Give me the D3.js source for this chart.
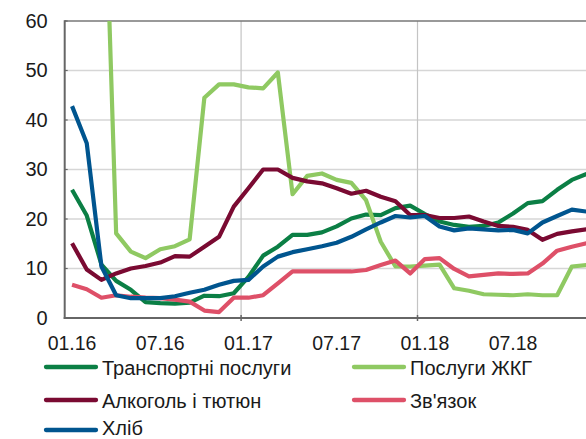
<!DOCTYPE html>
<html>
<head>
<meta charset="utf-8">
<script src="https://cdn.jsdelivr.net/npm/d3@7/dist/d3.min.js"></script>
<style>
  html, body { margin: 0; padding: 0; background: #fff; }
  svg { display: block; }
  text { font-family: "Liberation Sans", Arial, sans-serif; fill: #1a1a1a; }
</style>
</head>
<body>
<svg id="chart" width="586" height="439"></svg>
<script>
// ---- data ----
const months = [
  "01.16","02.16","03.16","04.16","05.16","06.16","07.16","08.16","09.16","10.16","11.16","12.16",
  "01.17","02.17","03.17","04.17","05.17","06.17","07.17","08.17","09.17","10.17","11.17","12.17",
  "01.18","02.18","03.18","04.18","05.18","06.18","07.18","08.18","09.18","10.18","11.18","12.18"
];
const tickLabels = ["01.16","07.16","01.17","07.17","01.18","07.18"];
const gridMonths = ["01.17","01.18"];
const yTicks = [0, 10, 20, 30, 40, 50, 60];

const transport = [25.9, 20.7, 10.8, 7.5, 5.7, 3.2, 3.0, 2.9, 3.1, 4.5, 4.4, 5.0,
                   8.3, 12.6, 14.4, 16.8, 16.8, 17.3, 18.5, 20.1, 20.9, 20.8, 22.2, 22.7,
                   21.0, 19.5, 18.8, 18.4, 18.6, 19.3, 21.1, 23.2, 23.6, 25.9, 27.9, 29.1];
const housing   = [104, 108, 111, 17.1, 13.4, 12.1, 13.9, 14.5, 15.9, 44.5, 47.2, 47.2,
                   46.6, 46.4, 49.6, 25.0, 28.7, 29.2, 27.9, 27.3, 23.8, 15.4, 10.4, 10.4,
                   10.6, 10.8, 6.0, 5.5, 4.8, 4.7, 4.6, 4.8, 4.6, 4.6, 10.4, 10.7];
const alcohol   = [15.1, 9.8, 7.7, 9.0, 10.0, 10.5, 11.2, 12.5, 12.4, 14.4, 16.4, 22.5,
                   26.2, 30.0, 30.0, 28.3, 27.6, 27.2, 26.2, 25.1, 25.7, 24.5, 23.6, 20.8,
                   20.8, 20.2, 20.2, 20.5, 19.5, 18.6, 18.4, 17.8, 15.8, 17.0, 17.5, 17.9];
const telecom   = [6.7, 5.8, 4.1, 4.6, 4.3, 4.1, 4.0, 3.7, 3.3, 1.5, 1.2, 4.1,
                   4.1, 4.6, 7.0, 9.4, 9.4, 9.4, 9.4, 9.4, 9.7, 10.7, 11.6, 9.0,
                   11.9, 12.1, 9.9, 8.4, 8.7, 9.0, 8.9, 9.0, 11.0, 13.6, 14.4, 15.1];
const bread     = [42.8, 35.3, 10.4, 4.6, 4.0, 4.0, 4.0, 4.4, 5.1, 5.7, 6.7, 7.5,
                   7.7, 10.4, 12.4, 13.3, 13.9, 14.5, 15.2, 16.4, 17.9, 19.3, 20.6, 20.3,
                   20.6, 18.5, 17.7, 18.1, 17.9, 17.7, 17.8, 17.1, 19.3, 20.6, 21.9, 21.5];

const seriesNames  = ["Транспортні послуги", "Послуги ЖКГ", "Алкоголь і тютюн", "Зв'язок", "Хліб"];
const seriesColors = ["#0b7f45", "#8fc962", "#7a0a32", "#de5068", "#00558f"];
const seriesValues = [transport, housing, alcohol, telecom, bread];

// ---- layout ----
const svg = d3.select("#chart");
const plot = { left: 64.7, right: 593.9, top: 21, bottom: 318 };

const x = d3.scaleBand().domain(months).range([plot.left, plot.right]).padding(0);
const xc = m => x(m) + x.bandwidth() / 2;
const y = d3.scaleLinear().domain([0, 60]).range([plot.bottom, plot.top]);

// horizontal gridlines
svg.append("g").selectAll("line")
  .data(yTicks.filter(v => v > 0 && v < 60))
  .join("line")
  .attr("x1", plot.left).attr("x2", plot.right)
  .attr("y1", d => y(d)).attr("y2", d => y(d))
  .attr("stroke", "#d6d6d6").attr("stroke-width", 1.3);

// vertical gridlines
svg.append("g").selectAll("line")
  .data(gridMonths)
  .join("line")
  .attr("x1", d => x(d)).attr("x2", d => x(d))
  .attr("y1", plot.top).attr("y2", plot.bottom)
  .attr("stroke", "#c4c4c4").attr("stroke-width", 1.2);

// top border
svg.append("line")
  .attr("x1", plot.left).attr("x2", plot.right)
  .attr("y1", plot.top).attr("y2", plot.top)
  .attr("stroke", "#777").attr("stroke-width", 1.5);

// clip
svg.append("clipPath").attr("id", "clip")
  .append("rect")
  .attr("x", plot.left).attr("y", plot.top)
  .attr("width", plot.right - plot.left).attr("height", plot.bottom - plot.top);

// lines
const line = d3.line()
  .x((d, i) => xc(months[i]))
  .y(d => y(d))
  .curve(d3.curveLinear);

const lg = svg.append("g").attr("clip-path", "url(#clip)");
seriesValues.forEach((vals, k) => {
  lg.append("path")
    .datum(vals)
    .attr("d", line)
    .attr("fill", "none")
    .attr("stroke", seriesColors[k])
    .attr("stroke-width", 4.2)
    .attr("stroke-linejoin", "round")
    .attr("stroke-linecap", "butt");
});

// y axis
const yAxis = d3.axisLeft(y).tickValues(yTicks).tickSize(0).tickPadding(17);
const yg = svg.append("g").attr("transform", `translate(${plot.left},0)`).call(yAxis);
yg.select(".domain").remove();
yg.selectAll("text").attr("font-size", 20).attr("font-family", "Liberation Sans, Arial, sans-serif").attr("fill", "#1a1a1a");
svg.append("g").selectAll("line")
  .data(yTicks)
  .join("line")
  .attr("x1", plot.left).attr("x2", plot.left + 3)
  .attr("y1", d => y(d)).attr("y2", d => y(d))
  .attr("stroke", "#666").attr("stroke-width", 1.2);
svg.append("line")
  .attr("x1", plot.left).attr("x2", plot.left)
  .attr("y1", plot.top - 0.7).attr("y2", plot.bottom + 1)
  .attr("stroke", "#666").attr("stroke-width", 2);

// x axis
const xAxis = d3.axisBottom(x).tickValues(tickLabels).tickSize(0).tickPadding(18);
const xg = svg.append("g").attr("transform", `translate(0,${plot.bottom})`).call(xAxis);
xg.select(".domain").remove();
xg.selectAll("text").attr("font-size", 19.5).attr("font-family", "Liberation Sans, Arial, sans-serif").attr("fill", "#1a1a1a");
svg.append("g").selectAll("line")
  .data(gridMonths)
  .join("line")
  .attr("x1", d => x(d)).attr("x2", d => x(d))
  .attr("y1", plot.bottom - 3).attr("y2", plot.bottom + 3)
  .attr("stroke", "#666").attr("stroke-width", 1.5);
svg.append("line")
  .attr("x1", plot.left - 1).attr("x2", plot.right)
  .attr("y1", plot.bottom).attr("y2", plot.bottom)
  .attr("stroke", "#666").attr("stroke-width", 2);

// legend
const legendPos = [
  { sx: 44, ty: 367, tb: 374.5 }, { sx: 352, ty: 367, tb: 374.5 },
  { sx: 44, ty: 400, tb: 407.5 }, { sx: 352, ty: 400, tb: 407.5 },
  { sx: 44, ty: 430, tb: 434.5 }
];
const leg = svg.append("g");
seriesNames.forEach((name, k) => {
  const p = legendPos[k];
  leg.append("line")
    .attr("x1", p.sx + 2).attr("x2", p.sx + 52)
    .attr("y1", p.ty).attr("y2", p.ty)
    .attr("stroke", seriesColors[k]).attr("stroke-width", 4.3)
    .attr("stroke-linecap", "round");
  leg.append("text")
    .attr("x", p.sx + 58).attr("y", p.tb)
    .attr("font-size", 20)
    .text(name);
});
</script>
</body>
</html>
